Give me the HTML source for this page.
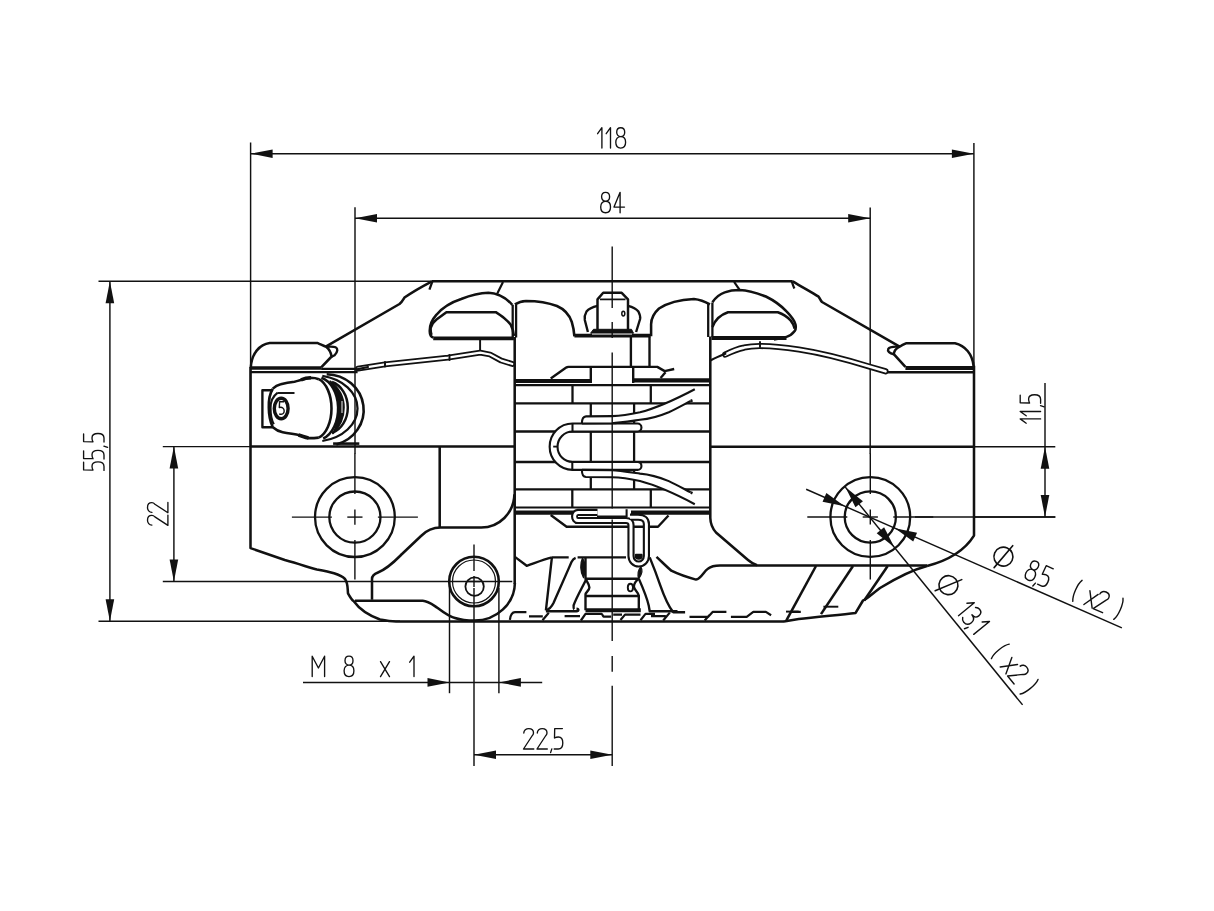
<!DOCTYPE html>
<html><head><meta charset="utf-8"><style>
html,body{margin:0;padding:0;background:#fff;width:1214px;height:911px;overflow:hidden}
svg{display:block}
</style></head><body>
<svg width="1214" height="911" viewBox="0 0 1214 911">
<g fill="none" stroke="#111" stroke-linecap="butt" stroke-linejoin="round">
<line x1="250.6" y1="142.5" x2="250.6" y2="446.6" stroke-width="1.45" />
<line x1="973.9" y1="143" x2="973.9" y2="368" stroke-width="1.45" />
<line x1="250.6" y1="153.7" x2="973.9" y2="153.7" stroke-width="1.45" />
<path d="M250.60,153.70 L272.60,149.40 L272.60,158.00 Z" fill="#111" stroke="none"/>
<path d="M973.90,153.70 L951.90,158.00 L951.90,149.40 Z" fill="#111" stroke="none"/>
<g transform="translate(597.6,148.1) rotate(0) scale(1.0)" stroke-width="1.35" stroke-linecap="round" stroke-linejoin="round"><path transform="translate(0.00,-20.4)" d="M0,6 L4.3,0 V20.4"/><path transform="translate(8.60,-20.4)" d="M0,6 L4.3,0 V20.4"/><path transform="translate(17.90,-20.4)" d="M5.2,8.9 C2.8,8.9 1.2,7.1 1.2,4.45 C1.2,1.8 2.8,0 5.2,0 C7.6,0 9.2,1.8 9.2,4.45 C9.2,7.1 7.6,8.9 5.2,8.9 C2.3,8.9 0.3,11.2 0.3,14.6 C0.3,18.2 2.3,20.4 5.2,20.4 C8.1,20.4 10.1,18.2 10.1,14.6 C10.1,11.2 8.1,8.9 5.2,8.9 Z"/></g>
<line x1="355" y1="207.2" x2="355" y2="454" stroke-width="1.45" />
<line x1="870.2" y1="207.6" x2="870.2" y2="454" stroke-width="1.45" />
<line x1="355" y1="218.2" x2="870.2" y2="218.2" stroke-width="1.45" />
<path d="M355.00,218.20 L377.00,213.90 L377.00,222.50 Z" fill="#111" stroke="none"/>
<path d="M870.20,218.20 L848.20,222.50 L848.20,213.90 Z" fill="#111" stroke="none"/>
<g transform="translate(600.4,212.7) rotate(0) scale(1.0)" stroke-width="1.35" stroke-linecap="round" stroke-linejoin="round"><path transform="translate(0.00,-20.4)" d="M5.2,8.9 C2.8,8.9 1.2,7.1 1.2,4.45 C1.2,1.8 2.8,0 5.2,0 C7.6,0 9.2,1.8 9.2,4.45 C9.2,7.1 7.6,8.9 5.2,8.9 C2.3,8.9 0.3,11.2 0.3,14.6 C0.3,18.2 2.3,20.4 5.2,20.4 C8.1,20.4 10.1,18.2 10.1,14.6 C10.1,11.2 8.1,8.9 5.2,8.9 Z"/><path transform="translate(13.60,-20.4)" d="M6.1,20.4 V0 L0,14.8 H10.5"/></g>
<line x1="98.5" y1="281.3" x2="432" y2="281.3" stroke-width="1.45" />
<line x1="98.5" y1="621.2" x2="400" y2="621.2" stroke-width="1.45" />
<line x1="109.9" y1="281.3" x2="109.9" y2="621.2" stroke-width="1.45" />
<path d="M109.90,281.30 L114.20,303.30 L105.60,303.30 Z" fill="#111" stroke="none"/>
<path d="M109.90,621.20 L105.60,599.20 L114.20,599.20 Z" fill="#111" stroke="none"/>
<g transform="translate(104,470.7) rotate(-90) scale(1.0)" stroke-width="1.35" stroke-linecap="round" stroke-linejoin="round"><path transform="translate(0.00,-20.4)" d="M8.5,0 H0.8 L0.6,9.4 C1.8,8.7 3.2,8.4 4.5,8.4 C7.4,8.4 8.9,10.8 8.9,14.4 C8.9,18.2 7.2,20.4 4.3,20.4 H0.3"/><path transform="translate(11.40,-20.4)" d="M8.5,0 H0.8 L0.6,9.4 C1.8,8.7 3.2,8.4 4.5,8.4 C7.4,8.4 8.9,10.8 8.9,14.4 C8.9,18.2 7.2,20.4 4.3,20.4 H0.3"/><path transform="translate(23.00,-20.4)" d="M1.5,20.3 L0.3,24"/><path transform="translate(28.30,-20.4)" d="M8.5,0 H0.8 L0.6,9.4 C1.8,8.7 3.2,8.4 4.5,8.4 C7.4,8.4 8.9,10.8 8.9,14.4 C8.9,18.2 7.2,20.4 4.3,20.4 H0.3"/></g>
<line x1="162.8" y1="446.6" x2="250.6" y2="446.6" stroke-width="1.45" />
<line x1="162.8" y1="581.5" x2="512.3" y2="581.5" stroke-width="1.45" />
<line x1="173.9" y1="446.6" x2="173.9" y2="581.5" stroke-width="1.45" />
<path d="M173.90,446.60 L178.20,468.60 L169.60,468.60 Z" fill="#111" stroke="none"/>
<path d="M173.90,581.50 L169.60,559.50 L178.20,559.50 Z" fill="#111" stroke="none"/>
<g transform="translate(167.9,525.6) rotate(-90) scale(1.0)" stroke-width="1.35" stroke-linecap="round" stroke-linejoin="round"><path transform="translate(0.00,-20.4)" d="M0.5,4.4 C0.5,1.7 2.8,0 5.4,0 C8.2,0 10.2,1.8 10.2,4.4 C10.2,5.6 9.7,6.5 8.7,7.4 L0.2,20.4 H10.5"/><path transform="translate(12.70,-20.4)" d="M0.5,4.4 C0.5,1.7 2.8,0 5.4,0 C8.2,0 10.2,1.8 10.2,4.4 C10.2,5.6 9.7,6.5 8.7,7.4 L0.2,20.4 H10.5"/></g>
<line x1="974" y1="446.7" x2="1055.3" y2="446.7" stroke-width="1.45" />
<line x1="974" y1="517" x2="1055.3" y2="517" stroke-width="1.45" />
<line x1="1045" y1="383.1" x2="1045" y2="517" stroke-width="1.45" />
<path d="M1045.00,446.70 L1049.30,468.70 L1040.70,468.70 Z" fill="#111" stroke="none"/>
<path d="M1045.00,517.00 L1040.70,495.00 L1049.30,495.00 Z" fill="#111" stroke="none"/>
<g transform="translate(1040.6,423.2) rotate(-90) scale(1.0)" stroke-width="1.35" stroke-linecap="round" stroke-linejoin="round"><path transform="translate(0.00,-20.4)" d="M0,6 L4.3,0 V20.4"/><path transform="translate(7.40,-20.4)" d="M0,6 L4.3,0 V20.4"/><path transform="translate(16.00,-20.4)" d="M1.5,20.3 L0.3,24"/><path transform="translate(19.60,-20.4)" d="M8.5,0 H0.8 L0.6,9.4 C1.8,8.7 3.2,8.4 4.5,8.4 C7.4,8.4 8.9,10.8 8.9,14.4 C8.9,18.2 7.2,20.4 4.3,20.4 H0.3"/></g>
<line x1="449.5" y1="588" x2="449.5" y2="693.2" stroke-width="1.45" />
<line x1="498.9" y1="588" x2="498.9" y2="693.2" stroke-width="1.45" />
<line x1="303" y1="682.4" x2="542.2" y2="682.4" stroke-width="1.45" />
<path d="M449.50,682.40 L427.50,686.70 L427.50,678.10 Z" fill="#111" stroke="none"/>
<path d="M498.90,682.40 L520.90,678.10 L520.90,686.70 Z" fill="#111" stroke="none"/>
<g transform="translate(312.2,676.6) rotate(0) scale(1.0)" stroke-width="1.35" stroke-linecap="round" stroke-linejoin="round"><path transform="translate(0.00,-20.4)" d="M0,20.4 V0 L6.2,11.8 L12.4,0 V20.4"/><path transform="translate(31.60,-20.4)" d="M5.2,8.9 C2.8,8.9 1.2,7.1 1.2,4.45 C1.2,1.8 2.8,0 5.2,0 C7.6,0 9.2,1.8 9.2,4.45 C9.2,7.1 7.6,8.9 5.2,8.9 C2.3,8.9 0.3,11.2 0.3,14.6 C0.3,18.2 2.3,20.4 5.2,20.4 C8.1,20.4 10.1,18.2 10.1,14.6 C10.1,11.2 8.1,8.9 5.2,8.9 Z"/><path transform="translate(68.30,-20.4)" d="M0,5.4 L9,20.4 M9,5.4 L0,20.4"/><path transform="translate(97.50,-20.4)" d="M0,6 L4.3,0 V20.4"/></g>
<line x1="474" y1="588" x2="474" y2="766" stroke-width="1.45" />
<line x1="474" y1="754.7" x2="612.3" y2="754.7" stroke-width="1.45" />
<path d="M474.00,754.70 L496.00,750.40 L496.00,759.00 Z" fill="#111" stroke="none"/>
<path d="M612.30,754.70 L590.30,759.00 L590.30,750.40 Z" fill="#111" stroke="none"/>
<g transform="translate(523.3,749) rotate(0) scale(1.0)" stroke-width="1.35" stroke-linecap="round" stroke-linejoin="round"><path transform="translate(0.00,-20.4)" d="M0.5,4.4 C0.5,1.7 2.8,0 5.4,0 C8.2,0 10.2,1.8 10.2,4.4 C10.2,5.6 9.7,6.5 8.7,7.4 L0.2,20.4 H10.5"/><path transform="translate(13.50,-20.4)" d="M0.5,4.4 C0.5,1.7 2.8,0 5.4,0 C8.2,0 10.2,1.8 10.2,4.4 C10.2,5.6 9.7,6.5 8.7,7.4 L0.2,20.4 H10.5"/><path transform="translate(27.00,-20.4)" d="M1.5,20.3 L0.3,24"/><path transform="translate(30.60,-20.4)" d="M8.5,0 H0.8 L0.6,9.4 C1.8,8.7 3.2,8.4 4.5,8.4 C7.4,8.4 8.9,10.8 8.9,14.4 C8.9,18.2 7.2,20.4 4.3,20.4 H0.3"/></g>
<path d="M432,281.3 H792.7" stroke-width="2.54" />
<path d="M432,281.3 C421,287 411,293 404.5,297.5 C403,300 402,302 399.5,304 L326.2,346.3" stroke-width="2.54" />
<path d="M432.3,281.6 C431.4,284 430.4,287 429.4,289.6" stroke-width="2.27" />
<path d="M792.7,281.3 C802,287 811,292 818.6,296.7 C820,298.5 820.5,300.5 822,302 L899.6,346.7" stroke-width="2.54" />
<path d="M791.8,281.6 C792.6,284 793.4,286.5 794.4,288.6" stroke-width="2.27" />
<path d="M250.8,367.5 C251.5,353 260,344.5 269.7,343.1 H317.8 C321,344.5 324,346 326.2,346.8 C329.5,349.5 331,353 331.6,356.5 L321.2,367.3" stroke-width="2.54" />
<path d="M326.2,346.8 C330,346.5 334,346.5 335.6,347.3 C338,348.5 338,351.5 334.6,355.2 L331.6,356.7" stroke-width="2.38" />
<path d="M250.8,368 H321.5" stroke-width="3.4" />
<path d="M321.2,368.8 H357.6" stroke-width="2.16" />
<path d="M250.8,372.1 H357.6" stroke-width="2.38" />
<path d="M973.6,366.2 C972.5,354 965,345.5 955,343.2 H906.5 C903.5,344.5 901.5,345.5 899.6,346.7 C896,348.5 894,351 893.8,354.2 L905.4,366.9" stroke-width="2.54" />
<path d="M899.6,346.7 C895,346.4 889.5,346.8 888.3,348.8 C887.2,351 889.5,353.6 893.8,354.2" stroke-width="2.38" />
<path d="M905.4,368 H974" stroke-width="4" />
<path d="M887.7,372.3 H974" stroke-width="2.38" />
<g stroke-linejoin="round" stroke-linecap="round">
<path d="M358,368.6 L385,364.3 L448,357.6 L480.2,352.6 L490,354.5 L501.3,360.6 L512.5,364" stroke-width="5.8"/>
<path d="M358,368.6 L385,364.3 L448,357.6 L480.2,352.6 L490,354.5 L501.3,360.6 L512.5,364" stroke-width="2.2" stroke="#fff"/>
<path d="M355.6,369.6 L368,367" stroke-width="2.16" />
<path d="M385,362 V366.5 M449.5,355 V360" stroke-width="1.94" />
<path d="M725.3,354.6 C732,351.2 738,348.8 744.1,347.6 C750,346.2 755,346 759.8,346 C772,346 785,347.5 798.9,349.5 C822,353 848,360 869.3,366.6 L885.5,371.3" stroke-width="6.2"/>
<path d="M725.3,354.6 C732,351.2 738,348.8 744.1,347.6 C750,346.2 755,346 759.8,346 C772,346 785,347.5 798.9,349.5 C822,353 848,360 869.3,366.6 L885.5,371.3" stroke-width="2.6" stroke="#fff"/>
<path d="M711.3,360 C716,357.5 721,355.5 725.3,353.8" stroke-width="2.27" />
</g>
<path d="M480.1,339.7 V350.8" stroke-width="1.94" />
<path d="M760,341.2 V347.8" stroke-width="1.94" />
<path d="M433.2,337.7 C430.5,336.5 429.8,334.5 429.8,332 C429.5,328 430,322 436.5,314.7 C443,307 452,302 461.2,299 C470,295.5 480,293 488.4,292.8 C497,293 506,298 512.3,304.8" stroke-width="2.54" />
<path d="M431.5,335 C430.5,332 430.5,330 430.7,327.8 C432,324 434,321.5 436.5,319.6 L446.4,312.2 H495.8 C502,316 507,320 510.6,324.5 C512.5,328 513.5,332 513.9,336" stroke-width="2.54" />
<path d="M433.2,338.4 H513.9" stroke-width="3.8" />
<path d="M503,281.9 L497.2,293.7" stroke-width="2.16" />
<path d="M712.4,302.3 C716,297 720,294 724.7,292.4 C729,290.8 734,290 739.5,290 C748,290.5 757,293 765.9,296.5 C774,300.5 781,305.5 786.5,311.4 C791,316 794.5,320 795.5,324.5 C796,327 795.8,329.5 794.7,331.1 C792.5,334 789.5,336 786.5,336.9 C782,338.3 778,339 774,339.4" stroke-width="2.54" />
<path d="M712.4,327 C715,320 721,314.5 728,312.2 H777.8 C783,314 787.5,317 790.6,320.4 C792.8,323 794,326 794.7,328.7" stroke-width="2.54" />
<path d="M711.5,338 H786.5" stroke-width="3.8" />
<path d="M734.1,281.9 L739.3,289.3" stroke-width="2.16" />
<path d="M250.5,367 V548.1 L284.8,560 C300,564 310,568 316.9,569.5 C330,572 340,574 345,579 C348,583 347.5,588 348,593.3 C350,597 352,600 353.8,601.2 C360,610 368,615 380,619.5 C388,621 392,621.4 396,621.4 H784" stroke-width="2.54" />
<path d="M974,365.7 V535.6 C965,550 950,560 927,566" stroke-width="2.54" />
<path d="M250.5,446.6 H514.9" stroke-width="2.48" />
<path d="M709.9,446.7 H974" stroke-width="2.48" />
<path d="M514.7,337 V584" stroke-width="2.54" />
<path d="M710.3,336.5 V518 C710.5,524 712,528 716,532.5 L748,560 C751,562.5 753.5,564 757,565.3" stroke-width="2.54" />
<path d="M512.7,304.8 V337.5 M516.1,304.8 V337.5" stroke-width="2.27" />
<path d="M708.2,303 V337 M712.4,302.5 V337" stroke-width="2.27" />
<circle cx="354.9" cy="517.1" r="39.9" stroke-width="2.3"/>
<circle cx="354.9" cy="517.1" r="25.6" stroke-width="2.3"/>
<line x1="291.9" y1="517.1" x2="331.9" y2="517.1" stroke-width="1.4" />
<line x1="347.29999999999995" y1="517.1" x2="362.5" y2="517.1" stroke-width="1.4" />
<line x1="377.9" y1="517.1" x2="417.9" y2="517.1" stroke-width="1.4" />
<line x1="354.9" y1="453.6" x2="354.9" y2="494.1" stroke-width="1.4" />
<line x1="354.9" y1="509.5" x2="354.9" y2="524.7" stroke-width="1.4" />
<line x1="354.9" y1="540.1" x2="354.9" y2="579.6" stroke-width="1.4" />
<circle cx="870.3" cy="517" r="39.9" stroke-width="2.3"/>
<circle cx="870.3" cy="517" r="25.6" stroke-width="2.3"/>
<line x1="807.3" y1="517" x2="847.3" y2="517" stroke-width="1.4" />
<line x1="862.6999999999999" y1="517" x2="877.9" y2="517" stroke-width="1.4" />
<line x1="893.3" y1="517" x2="933.3" y2="517" stroke-width="1.4" />
<line x1="870.3" y1="453.5" x2="870.3" y2="494" stroke-width="1.4" />
<line x1="870.3" y1="509.4" x2="870.3" y2="524.6" stroke-width="1.4" />
<line x1="870.3" y1="540" x2="870.3" y2="579.5" stroke-width="1.4" />
<line x1="915" y1="517" x2="1055.3" y2="517" stroke-width="1.3" />
<circle cx="474" cy="581.5" r="24.8" stroke-width="2.6"/>
<circle cx="474" cy="581.5" r="21.5" stroke-width="1.2"/>
<circle cx="474.6" cy="586.6" r="9.2" stroke-width="1.8"/>
<line x1="474" y1="544.4" x2="474" y2="571" stroke-width="1.4" />
<line x1="468" y1="581.5" x2="480" y2="581.5" stroke-width="1.4" />
<line x1="474" y1="576" x2="474" y2="587" stroke-width="1.4" />
<line x1="806.16" y1="489.26" x2="1121.88" y2="627.86" stroke-width="1.45" />
<line x1="845.3" y1="487.11" x2="1022.59" y2="704.87" stroke-width="1.45" />
<path d="M844.62,506.15 L822.55,501.70 L826.40,492.91 Z" fill="#111" stroke="none"/>
<path d="M894.98,528.25 L917.05,532.70 L913.20,541.49 Z" fill="#111" stroke="none"/>
<path d="M845.30,487.11 L862.92,501.14 L855.47,507.20 Z" fill="#111" stroke="none"/>
<path d="M894.30,547.29 L876.68,533.26 L884.13,527.20 Z" fill="#111" stroke="none"/>
<g transform="translate(980,565.8) rotate(23.7)" stroke-width="1.4" stroke-linecap="round" stroke-linejoin="round"><circle cx="17.75" cy="-17.8" r="9.5" stroke-width="1.6"/><line x1="13.65" y1="-4" x2="21.85" y2="-31.6" stroke-width="1.6"/><path transform="translate(44.6,-26.7)" d="M5.2,8.9 C2.8,8.9 1.2,7.1 1.2,4.45 C1.2,1.8 2.8,0 5.2,0 C7.6,0 9.2,1.8 9.2,4.45 C9.2,7.1 7.6,8.9 5.2,8.9 C2.3,8.9 0.3,11.2 0.3,14.6 C0.3,18.2 2.3,20.4 5.2,20.4 C8.1,20.4 10.1,18.2 10.1,14.6 C10.1,11.2 8.1,8.9 5.2,8.9 Z"/><path transform="translate(56.2,-26.7)" d="M1.5,20.3 L0.3,24"/><path transform="translate(59.8,-26.7)" d="M8.5,0 H0.8 L0.6,9.4 C1.8,8.7 3.2,8.4 4.5,8.4 C7.4,8.4 8.9,10.8 8.9,14.4 C8.9,18.2 7.2,20.4 4.3,20.4 H0.3"/><path transform="translate(95.7,-26.7)" d="M3.6,-1 C0.8,4 0.8,17 3.6,22"/><path transform="translate(110.7,-26.7)" d="M0,5.4 L9,20.4 M9,5.4 L0,20.4"/><path transform="translate(120.6,-26.7)" d="M0.5,4.4 C0.5,1.7 2.8,0 5.4,0 C8.2,0 10.2,1.8 10.2,4.4 C10.2,5.6 9.7,6.5 8.7,7.4 L0.2,20.4 H10.5"/><path transform="translate(143.6,-26.7)" d="M0.4,-1 C3.2,4 3.2,17 0.4,22"/></g>
<g transform="translate(920,578.4) rotate(50.85)" stroke-width="1.4" stroke-linecap="round" stroke-linejoin="round"><circle cx="23.2" cy="-17.8" r="9.5" stroke-width="1.6"/><line x1="19.1" y1="-4" x2="27.299999999999997" y2="-31.6" stroke-width="1.6"/><path transform="translate(48.9,-26.7)" d="M0,6 L4.3,0 V20.4"/><path transform="translate(56.8,-26.7)" d="M0.8,2 C1.8,0.6 3.2,0 4.8,0 C7.6,0 9.4,1.8 9.4,4.8 C9.4,7.8 7.4,9.4 4.2,9.4 C7.6,9.4 10,11.4 10,14.8 C10,18.4 7.8,20.4 4.8,20.4 C3,20.4 1.4,19.6 0.4,18.2"/><path transform="translate(66.8,-26.7)" d="M1.5,20.3 L0.3,24"/><path transform="translate(73,-26.7)" d="M0,6 L4.3,0 V20.4"/><path transform="translate(103.7,-26.7)" d="M3.6,-1 C0.8,4 0.8,17 3.6,22"/><path transform="translate(119.3,-26.7)" d="M0,5.4 L9,20.4 M9,5.4 L0,20.4"/><path transform="translate(130.8,-26.7)" d="M0.5,4.4 C0.5,1.7 2.8,0 5.4,0 C8.2,0 10.2,1.8 10.2,4.4 C10.2,5.6 9.7,6.5 8.7,7.4 L0.2,20.4 H10.5"/><path transform="translate(152.5,-26.7)" d="M0.4,-1 C3.2,4 3.2,17 0.4,22"/></g>
<path d="M439.7,446.6 V528" stroke-width="2.54" />
<path d="M372,599.8 V579 C372,576 374,574 378,572.5 C388,568.5 395,561 402,554 L421,536 C427,530 433,527.6 440.5,527.6 H481.3 C499,527.6 514,513 514.4,494.4" stroke-width="2.54" />
<path d="M354.9,600.8 H422.8 C428,601 433,605 437.7,608 C443,612 449,616.5 455,618 C461,620 467,620.6 474.7,620.6 C496,620.6 514.6,604 514.9,583" stroke-width="2.54" />
<path d="M927,566 C912,570 898,577 880,588 C872,594 866,600 863,600.5 L855.6,612.9 C838,615 815,617 798.7,619.1 L783.9,621.5" stroke-width="2.54" />
<path d="M816,566 L786.4,620.3" stroke-width="2.54" />
<path d="M853,566 L821,614.1" stroke-width="2.54" />
<path d="M887.7,566 L864.2,600.5" stroke-width="2.54" />
<path d="M823.4,606.7 H838.3" stroke-width="1.94" />
<path d="M786,611.6 H798.7" stroke-width="1.94" />
<path d="M514.9,304.4 C518.5,302 522,301 526,300.9 C537,300.9 548,302.5 557,306 C565,309.5 569.5,315 571.8,322 C573.5,327.5 574.1,332 574.4,336.3" stroke-width="2.54" />
<path d="M709.9,304.4 C704,301 699,299.5 693.9,299 C684,299.5 669,302 659,308.5 C654,313 651.2,319 651.1,324.2 V336.3" stroke-width="2.54" />
<path d="M597.5,329.6 V299.4 L603.2,292.8 H621.7 L628,299.4 V329.6" stroke-width="2.48" />
<path d="M600,299.4 H625.5" stroke-width="1.73" />
<path d="M597.5,305.8 C592,307 588.5,309 586.5,311.5 C584.5,315 584.5,318 584.8,320 L587.9,332" stroke-width="2.38" />
<path d="M628,305.8 C633,307 636.5,309 638.4,311.5 C640.2,315 640.5,317 640.1,319 L636.1,332" stroke-width="2.38" />
<ellipse cx="623.3" cy="313.6" rx="1.5" ry="2.4" stroke-width="1.5"/>
<path d="M593.5,329.3 H631.5 L633.5,333.2 H590.6 Z" fill="#111" stroke-width="1"/>
<path d="M574.4,335.7 H650.5" stroke-width="3.8" />
<line x1="592" y1="334.1" x2="632" y2="334.1" stroke="#fff" stroke-width="0.9"/>
<path d="M630.9,336.3 V366.9" stroke-width="2.38" />
<path d="M649.5,336.3 V366.9" stroke-width="2.38" />
<path d="M550.7,378.4 L566.2,367.6 C566.8,367 567.5,366.9 568.5,366.9 H657.3 L664.7,371.1 L674.2,369" stroke-width="2.38" />
<path d="M665.5,372.3 L660.6,378.1" stroke-width="2.38" />
<path d="M590.8,366.9 V383" stroke-width="2.38" />
<path d="M633.2,366.9 V383" stroke-width="2.38" />
<path d="M514.9,381 H590.8" stroke-width="3.9" />
<path d="M633.2,380.3 H709.9" stroke-width="4.3" />
<path d="M514.9,385.1 H709.9" stroke-width="2.16" />
<path d="M514.9,403.4 H709.9" stroke-width="2.27" />
<path d="M514.9,431.5 H709.9" stroke-width="2.27" />
<path d="M514.9,462 H709.9" stroke-width="2.27" />
<path d="M514.9,489.3 H709.9" stroke-width="2.27" />
<path d="M514.9,507.5 H709.9" stroke-width="2.16" />
<path d="M514.9,512.6 H576 M631,512.6 H709.9" stroke-width="4.3" />
<path d="M572.5,385.1 V403.4 M650.8,385.1 V403.4" stroke-width="2.27" />
<path d="M590.8,403.4 V489.3 M634.1,403.4 V489.3" stroke-width="2.27" />
<path d="M572.3,489.3 V507.5 M650.8,489.3 V507.5" stroke-width="2.27" />
<path d="M550.7,515 L566.6,526.8 H658 L668.5,515.5" stroke-width="2.38" />
<path d="M577.6,557.4 H626" stroke-width="2.38" />
<path d="M585.5,578.7 H638.8" stroke-width="2.38" />
<path d="M585.5,596 H639.8" stroke-width="2.38" />
<path d="M585.5,610.3 H640.8" stroke-width="4.0" />
<path d="M582.5,557.9 C580,563 580,572 583.5,577.7 C585.8,572 585.8,563 582.5,557.9 Z" fill="#111" stroke-width="1.2"/>
<path d="M640.8,566.8 C643,570 641.5,575 638.8,578.7 C637.5,575 638,570 640.8,566.8 Z" fill="#111" stroke-width="1.2"/>
<path d="M585.5,557.9 V578.7 C586.5,581 589.4,584 589.4,587.6 C589.4,590.5 585.5,592 585.5,594.5 V610.3" stroke-width="2.38" />
<path d="M638.8,578.7 C636,581 633.9,584 633.9,586.6 C633.9,590 638.8,592 638.8,596 V610.3" stroke-width="2.38" />
<path d="M551.9,557.4 H568.7 M551.9,557.4 L545.9,610.3" stroke-width="2.38" />
<path d="M514.9,556.9 L526.7,565.8 C535,563 542,560 551.9,557.4" stroke-width="2.38" />
<path d="M575.6,557.9 C574,558.5 572.5,560 571.5,562 C565,577 558,593 553.5,603 C551.5,607 549,609.5 545.9,610.3" stroke-width="2.38" />
<path d="M545.9,611.2 H576.5 C579,611.2 579,608.8 576.5,608.6" stroke-width="2.38" />
<path d="M586.5,578.7 C582,588 576,598 573.6,605.4 C573.5,607.5 573.8,609 574.1,609.3" stroke-width="2.38" />
<path d="M638.8,578.7 C642,586 646.5,596 648.7,605.4 L649.7,611.3 H677.5" stroke-width="2.38" />
<path d="M649.7,557.4 C652,563 656,573 660,584.6 C664,596 668,606 673.3,612.2 H685.1" stroke-width="2.38" />
<path d="M656.5,556.9 C662,562 667,567 671.3,570.7 C680,575 690,578 696,579.6 C701,579 704,571 707.9,568.7 C711,566.3 715,565.5 720,565.5 H927" stroke-width="2.48" />
<ellipse cx="630.4" cy="587.6" rx="2.6" ry="3.8" stroke-width="1.9"/>
<path d="M597.5,512.4 H578 C573.5,512.4 573.5,520.5 578,520.5 H626 C629,520.5 631,522 631,525 V556 C631,560.5 634.5,564 638.7,564 C642.9,564 646.4,560.5 646.4,556 V524 C646.4,519.5 643,517.2 638,517.2 H630" stroke-width="7.2"/>
<path d="M597.5,512.4 H578 C573.5,512.4 573.5,520.5 578,520.5 H626 C629,520.5 631,522 631,525 V556 C631,560.5 634.5,564 638.7,564 C642.9,564 646.4,560.5 646.4,556 V524 C646.4,519.5 643,517.2 638,517.2 H630" stroke-width="3.0" stroke="#fff"/>
<path d="M635.5,556 C635.5,560 642,560 642,556 L641.8,554.5 H635.7 Z" fill="#111" stroke-width="1.5"/>
<path d="M597,516.6 H627 M626.6,509.2 V517" stroke-width="2.05" />
<path d="M637.5,427.5 H572.5 A18.9,19.2 0 0 0 572.5,465.9 H637.5" stroke-width="10" stroke-linecap="round"/>
<path d="M637.5,427.5 H572.5 A18.9,19.2 0 0 0 572.5,465.9 H637.5" stroke-width="5.8" stroke="#fff" stroke-linecap="round"/>
<path d="M694.8,389.2 C680,397 660,407 640,412.3 C628,415 618,416 612,416.1 L586,416.4 C583,416.6 581.9,418.5 581.9,423.5 L581.9,423.5 L612,423.3 C618,423 628,421.5 640,419.8 C650,419 660,416 668.8,412.3 C676,409 684,404.5 690.7,401 Z" fill="#fff" stroke="none"/>
<path d="M694.8,389.2 C680,397 660,407 640,412.3 C628,415 618,416 612,416.1 L586,416.4 C583,416.6 581.9,418.5 581.9,423.5" stroke-width="2.1"/>
<path d="M581.9,423.5 L612,423.3 C618,423 628,421.5 640,419.8 C650,419 660,416 668.8,412.3 C676,409 684,404.5 690.7,401" stroke-width="2.1"/>
<path d="M690.7,401 L692.5,400.2" stroke-width="2.6"/>
<path d="M694.8,504.2 C680,496.4 660,486.4 640,481.1 C628,478.4 618,477.4 612,477.3 L586,477.0 C583,476.8 581.9,474.9 581.9,469.9 L581.9,469.9 L612,470.1 C618,470.4 628,471.9 640,473.6 C650,474.4 660,477.4 668.8,481.1 C676,484.4 684,488.9 690.7,492.4 Z" fill="#fff" stroke="none"/>
<path d="M694.8,504.2 C680,496.4 660,486.4 640,481.1 C628,478.4 618,477.4 612,477.3 L586,477.0 C583,476.8 581.9,474.9 581.9,469.9" stroke-width="2.1"/>
<path d="M581.9,469.9 L612,470.1 C618,470.4 628,471.9 640,473.6 C650,474.4 660,477.4 668.8,481.1 C676,484.4 684,488.9 690.7,492.4" stroke-width="2.1"/>
<path d="M690.7,492.4 L692.5,493.2" stroke-width="2.6"/>
<path d="M572.5,423.2 V431.8 M572.3,461.6 V470.2" stroke-width="2.05" />
<path d="M553.2,446.6 H557.5" stroke-width="1.84" />
<path d="M612.2,246.4 V308 M612.2,322 V338 M612.2,352.5 V508.6 M612.2,519.6 V641 M612.2,656 V671.8 M612.2,685.8 V766" stroke-width="1.4"/>
<path d="M509.9,619.8 C510.5,615 512,612.2 515,612.2 H526.4 M529,616.3 H542.8 M542.5,620.2 L548.8,612.8 M564.6,616.2 H580 M580.9,620.5 L585.5,613.9 H601.4 C602.6,614.2 602.8,616.2 603.5,616.6 H611.2 M613.2,614.6 H622 M620.5,620 L625,614.6 H640.5 M640.5,620.2 L645.5,613.9 H655 M651,616.2 H665.8 M663.2,620.5 L669.8,612.6 M689.5,616.9 H708 L712.6,611.9 H726.4 M704.7,620.5 L709.5,615 M730.9,616.9 H746.7 L753.3,611.9 H765.9 L771.1,615.2 M790.9,611.9 H800.8" stroke-width="2.2"/>
<path d="M272.3,390.2 H262.4 V427.3 H272.3" stroke-width="2.38" />
<path d="M272.8,388.7 C275,386.5 277.5,385 280.7,384.3 C286,382.8 290,382.2 294.5,381.8 C297,381.2 299,380.3 301.5,379.8 C304.5,378.8 307,378 310.4,377.8 C314,377.8 316.5,378.2 318.8,379.2" stroke-width="2.59" />
<path d="M272.8,388.7 C269.5,394 268.6,401 268.8,407.5 C268.8,414 269.8,421 272.8,427.3 C275.8,430 279,431.5 282.7,432.2 C289,433.5 295,434.2 299.5,435.2 C303,436.2 305.5,437.6 308.4,438.1 C311.5,438.3 315,438 318.8,437.6" stroke-width="2.59" />
<path d="M301,379.8 C304,378.6 307,377.9 311,377.8" stroke-width="3.6" />
<path d="M298.5,435 C302,436 305,437.3 308.5,438" stroke-width="3.6" />
<path d="M318.8,379.2 A17.51,30.37 0 0 1 318.8,437.6" stroke-width="2.59" />
<path d="M321.4,377.7 A21.78,31.62 0 0 1 323.2,438.5" stroke-width="2.59" />
<path d="M330.2,381.2 C339,388 344,397 344,407.5 C344,419 339.5,427 333,433.5 C336.8,426 339,417 339,407.5 C339,397 336,389 330.2,381.2 Z" fill="#111" stroke-width="1.6"/>
<path d="M342,401 V413" stroke-width="0.97" stroke="#fff"/>
<path d="M332,382 A21.78,26.52 0 0 1 332,433" stroke-width="2.48" />
<path d="M322.3,375.9 A43.84,33.20 0 0 1 322.3,441" stroke-width="2.27" />
<path d="M326.7,374.2 A37.67,35.80 0 0 1 336.4,444.4" stroke-width="2.59" />
<path d="M333.1,443.6 H359.3" stroke-width="2.59" />
<path d="M277.7,393 H294.5" stroke-width="1.94" />
<path d="M277.7,392.7 C272,397 270.5,402 270.5,408 C270.5,415 271.5,420 273.8,424.3" stroke-width="2.16" />
<ellipse cx="281.2" cy="408.5" rx="6.9" ry="10.2" stroke-width="3.4"/>
<path d="M284,401.8 H279.6 L279.3,407.5 C282.2,406.6 284.2,408.4 284.2,411 C284.2,413.6 282.4,414.8 279.2,414" stroke-width="1.4"/>
</g></svg></body></html>
